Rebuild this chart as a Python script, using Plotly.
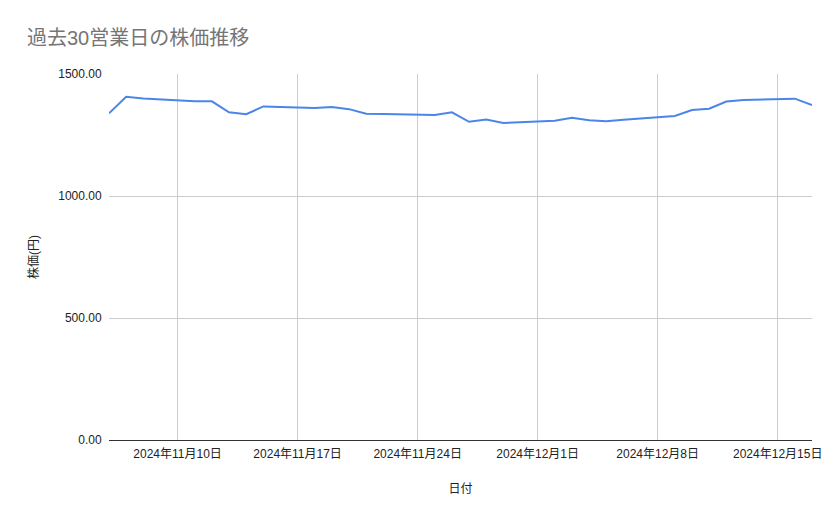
import plotly.graph_objects as go

dates = ["2024-11-06", "2024-11-07", "2024-11-08", "2024-11-11", "2024-11-12",
         "2024-11-13", "2024-11-14", "2024-11-15", "2024-11-18", "2024-11-19",
         "2024-11-20", "2024-11-21", "2024-11-22", "2024-11-25", "2024-11-26",
         "2024-11-27", "2024-11-28", "2024-11-29", "2024-12-02", "2024-12-03",
         "2024-12-04", "2024-12-05", "2024-12-06", "2024-12-09", "2024-12-10",
         "2024-12-11", "2024-12-12", "2024-12-13", "2024-12-16", "2024-12-17"]
prices = [1339, 1407, 1400, 1388, 1388,
          1343, 1335, 1367, 1361, 1365,
          1356, 1337, 1336, 1332, 1343,
          1304, 1313, 1299, 1308, 1321,
          1310, 1306, 1313, 1328, 1352,
          1358, 1387, 1393, 1399, 1373]

tick_vals = ["2024-11-10", "2024-11-17", "2024-11-24", "2024-12-01", "2024-12-08", "2024-12-15"]
tick_text = ["2024年11月10日", "2024年11月17日", "2024年11月24日", "2024年12月1日", "2024年12月8日", "2024年12月15日"]
y_ticks = [0, 500, 1000, 1500]
y_text = ["0.00", "500.00", "1000.00", "1500.00"]

FONT = "Liberation Sans, Arial, Noto Sans CJK JP, sans-serif"

fig = go.Figure(go.Scatter(
    x=dates, y=prices, mode="lines",
    line=dict(color="#4a86e8", width=2),
    hoverinfo="x+y",
))

fig.update_layout(
    width=839, height=519,
    paper_bgcolor="white", plot_bgcolor="white",
    margin=dict(l=101, r=35, t=66, b=87),
    showlegend=False,
    font=dict(family=FONT, size=12, color="#222222"),
    title=dict(text="過去30営業日の株価推移", x=19/839, xanchor="left",
               y=1 - 30/519, yanchor="middle",
               font=dict(family=FONT, size=20, color="#757575")),
    xaxis=dict(
        type="date",
        range=["2024-11-06", "2024-12-17"],
        tickvals=tick_vals, ticktext=tick_text,
        showgrid=True, gridcolor="#cccccc", gridwidth=1,
        showline=True, linecolor="#333333", linewidth=1,
        ticks="outside", ticklen=3, tickcolor="rgba(0,0,0,0)", zeroline=False,
        tickfont=dict(family=FONT, size=12, color="#222222"),
        title=dict(text="日付", font=dict(family=FONT, size=12, color="#222222"), standoff=24),
    ),
    yaxis=dict(
        range=[0, 1500],
        tickvals=y_ticks, ticktext=y_text,
        showgrid=True, gridcolor="#cccccc", gridwidth=1,
        zeroline=False, showline=False,
        ticks="outside", ticklen=4, tickcolor="rgba(0,0,0,0)",
        tickfont=dict(family=FONT, size=12, color="#222222"),
        title=dict(text="株価(円)", font=dict(family=FONT, size=12, color="#222222"), standoff=17),
    ),
)

fig.write_html("out.html")
